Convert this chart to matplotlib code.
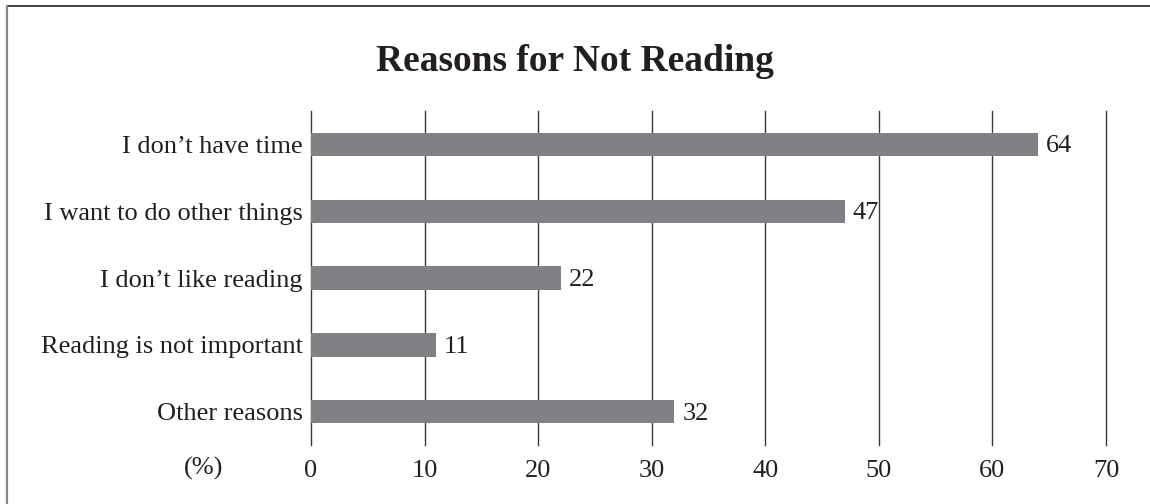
import matplotlib.pyplot as plt
from matplotlib.lines import Line2D

# survey results (%)
reasons = ["I don\u2019t have time", "I want to do other things", "I don\u2019t like reading",
           "Reading is not important", "Other reasons"]
percents = [64, 47, 22, 11, 32]
ticks = [0, 10, 20, 30, 40, 50, 60, 70]

plt.rcParams['font.family'] = ['Liberation Serif', 'DejaVu Serif']
ink = "#231f20"
bar_color = "#808184"
fs = 19

fig = plt.figure(figsize=(11.5, 5.04), dpi=100)
ax = fig.add_axes([0.2704, 0.117, 0.6913, 0.6628])

pos = list(range(len(reasons)))
ax.barh(pos, percents, height=0.35, color=bar_color, zorder=3)
for p, v in zip(pos, percents):
    ax.text(v + 0.7, p + 0.03, str(v), va="center", ha="left", fontsize=fs, color=ink)

ax.set_xlim(0, 70)
ax.set_ylim(len(reasons) - 0.5, -0.5)
ax.set_yticks(pos)
ax.set_yticklabels(reasons, fontsize=fs, color=ink)
ax.set_xticks(ticks)
ax.set_xticklabels([str(t) for t in ticks], fontsize=fs, color=ink)
ax.tick_params(length=0, pad=6)
ax.tick_params(axis="x", pad=11)
for s in ax.spines.values():
    s.set_visible(False)
for t in ticks:
    ax.axvline(t, color="#3a3a3a", lw=1.0, zorder=1, clip_on=False)

ax.text(-0.135, -0.07, "(%)", transform=ax.transAxes, ha="center", va="center",
        fontsize=fs, color=ink)

fig.text(0.5, 0.878, "Reasons for Not Reading", ha="center", va="center",
         fontsize=27, fontweight="bold", color=ink)

# frame lines along the top and left edge
fig.add_artist(Line2D([0.006, 1.0], [0.988, 0.988], transform=fig.transFigure,
                      color="#222222", lw=1.2))
fig.add_artist(Line2D([0.006, 0.006], [0.0, 0.988], transform=fig.transFigure,
                      color="#888888", lw=1.6))

fig.savefig("out.png", dpi=100)
